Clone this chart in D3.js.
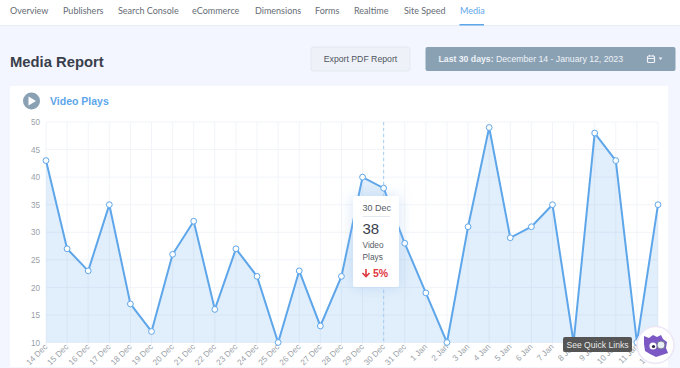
<!DOCTYPE html>
<html>
<head>
<meta charset="utf-8">
<script src="https://cdn.jsdelivr.net/npm/d3@7"></script>
<style>
  html, body { margin: 0; padding: 0; background: #f3f6fe; }
  svg { display: block; }
  text { font-family: "Liberation Sans", Arial, sans-serif; }
  .nav { font-family: Lato, sans-serif; font-size: 9px; fill: #666c76; }
  .tick text { font-size: 8.2px; fill: #9a9fa8; }
</style>
</head>
<body>
<div id="chart"></div>
<script>
// values
const days = ["14 Dec","15 Dec","16 Dec","17 Dec","18 Dec","19 Dec","20 Dec","21 Dec","22 Dec","23 Dec","24 Dec","25 Dec","26 Dec","27 Dec","28 Dec","29 Dec","30 Dec","31 Dec","1 Jan","2 Jan","3 Jan","4 Jan","5 Jan","6 Jan","7 Jan","8 Jan","9 Jan","10 Jan","11 Jan","12 Jan"];
const plays = [43,27,23,35,17,12,26,32,16,27,22,10,23,13,22,40,38,28,19,10,31,49,29,31,35,10,48,43,10,35];
const yTicks = [10,15,20,25,30,35,40,45,50];
const navItems = ["Overview","Publishers","Search Console","eCommerce","Dimensions","Forms","Realtime","Site Speed","Media"];
const navX = [10,63,118,192,255,315,354,404,460];
const activeDay = "30 Dec";

const width = 680, height = 368;
const svg = d3.select("#chart").append("svg").attr("width", width).attr("height", height);
const defs = svg.append("defs");
const blur = defs.append("filter").attr("id","tipShadow").attr("x","-40%").attr("y","-40%").attr("width","180%").attr("height","180%");
blur.append("feDropShadow").attr("dx",0).attr("dy",0).attr("stdDeviation",7).attr("flood-color","#7fb2e8").attr("flood-opacity",0.35);

// nav bar
svg.append("rect").attr("width",width).attr("height",25.5).attr("fill","#fff");
svg.append("rect").attr("y",25).attr("width",width).attr("height",1).attr("fill","#e8edf6");
svg.selectAll("text.nav").data(navItems).enter().append("text")
  .attr("class","nav")
  .attr("x",(d,i)=>navX[i]).attr("y",14)
  .style("fill",d=>d==="Media"?"#5ea6ea":null)
  .text(d=>d);
svg.append("rect").attr("x",459.5).attr("y",24).attr("width",24.5).attr("height",1.5).attr("fill","#5ea6ea");

// header row
svg.append("text").attr("x",10).attr("y",67).attr("font-size",14.8).attr("font-weight","bold").attr("fill","#393f4c").text("Media Report");
svg.append("rect").attr("x",311).attr("y",47).attr("width",99).attr("height",24).attr("rx",2).attr("fill","#eef1f8").attr("stroke","#e4e8f1");
svg.append("text").attr("x",360.5).attr("y",62).attr("text-anchor","middle").attr("font-size",8.7).attr("fill","#50565f").text("Export PDF Report");
svg.append("rect").attr("x",425.5).attr("y",47).attr("width",250).attr("height",24).attr("rx",2).attr("fill","#8aa1b4");
const range = svg.append("text").attr("x",438.5).attr("y",62).attr("font-size",8.7).attr("fill","#eef2f6");
range.append("tspan").attr("font-weight","bold").text("Last 30 days: ");
range.append("tspan").text("December 14 - January 12, 2023");
// calendar icon
svg.append("rect").attr("x",647.5).attr("y",56).attr("width",7).attr("height",6.5).attr("rx",1).attr("fill","none").attr("stroke","#eef2f6").attr("stroke-width",1.2);
svg.append("path").attr("d","M647 58.5h8M649.5 54.8v2M653 54.8v2").attr("stroke","#eef2f6").attr("stroke-width",1);
svg.append("path").attr("d","M658.5 57.5h4l-2 2.5z").attr("fill","#eef2f6");

// card
svg.append("rect").attr("x",10).attr("y",86).attr("width",658).attr("height",281).attr("fill","#fff");
svg.append("circle").attr("cx",31.5).attr("cy",101).attr("r",8.5).attr("fill","#8aa1b4");
svg.append("path").attr("d","M28.5 96.5l7.5 4.5-7.5 4.5z").attr("fill","#fff");
svg.append("text").attr("x",50).attr("y",105).attr("font-size",10.5).attr("font-weight","bold").attr("fill","#5ea6ea").text("Video Plays");

// chart
const x = d3.scalePoint().domain(days).range([46,658]);
const y = d3.scaleLinear().domain([10,50]).range([342.5,122]);

const grid = svg.append("g").attr("stroke","#f2f4f9").attr("stroke-width",1);
grid.selectAll("line.v").data(days).enter().append("line").attr("class","v")
  .attr("x1",d=>x(d)).attr("x2",d=>x(d)).attr("y1",y(50)).attr("y2",y(10)+3);
grid.selectAll("line.h").data(yTicks).enter().append("line").attr("class","h")
  .attr("x1",46).attr("x2",658).attr("y1",d=>y(d)).attr("y2",d=>y(d));

const area = d3.area().x((d,i)=>x(days[i])).y0(y(10)).y1(d=>y(d));
const line = d3.line().x((d,i)=>x(days[i])).y(d=>y(d));
svg.append("path").datum(plays).attr("d",area).attr("fill","#5ea6ea").attr("fill-opacity",0.19);

const yAxis = d3.axisLeft(y).tickValues(yTicks).tickSize(0).tickPadding(6);
svg.append("g").attr("transform","translate(46,0)").call(yAxis).call(g=>g.select(".domain").remove());
const xAxis = d3.axisBottom(x).tickSize(0).tickPadding(0);
svg.append("g").attr("transform","translate(-3,343)").call(xAxis)
  .call(g=>g.select(".domain").remove())
  .selectAll("text").attr("text-anchor","end").attr("dx","0").attr("dy","0.75em").attr("transform","rotate(-45)");

svg.append("line").attr("x1",x(activeDay)).attr("x2",x(activeDay)).attr("y1",y(50)).attr("y2",y(10))
  .attr("stroke","#a5cdf3").attr("stroke-width",1).attr("stroke-dasharray","3 3");

svg.append("path").datum(plays).attr("d",line).attr("fill","none").attr("stroke","#5ea6ea").attr("stroke-width",2);
svg.selectAll("circle.pt").data(plays).enter().append("circle").attr("class","pt")
  .attr("cx",(d,i)=>x(days[i])).attr("cy",d=>y(d)).attr("r",2.9)
  .attr("fill","#fff").attr("stroke","#5ea6ea").attr("stroke-width",1);

// tooltip
const tip = svg.append("g").attr("transform","translate(353,196)");
tip.append("rect").attr("width",46).attr("height",91).attr("rx",2).attr("fill","#fff").attr("filter","url(#tipShadow)");
tip.append("text").attr("x",9.5).attr("y",15).attr("font-size",9).attr("fill","#555b66").text(activeDay);
tip.append("line").attr("x1",9.5).attr("x2",37).attr("y1",20.5).attr("y2",20.5).attr("stroke","#e3e8f0");
tip.append("text").attr("x",9.5).attr("y",38).attr("font-size",15).attr("fill","#393f4c").text(plays[days.indexOf(activeDay)]);
tip.append("text").attr("x",9.5).attr("y",52).attr("font-size",8.3).attr("fill","#555b66").text("Video");
tip.append("text").attr("x",9.5).attr("y",64).attr("font-size",8.3).attr("fill","#555b66").text("Plays");
tip.append("path").attr("d","M13 73v7M9.5 77l3.5 3.5 3.5-3.5").attr("fill","none").attr("stroke","#e0393e").attr("stroke-width",1.6);
tip.append("text").attr("x",20).attr("y",81).attr("font-size",10.5).attr("font-weight","bold").attr("fill","#e0393e").text("5%");

// quick links badge
const badge = svg.append("g");
badge.append("rect").attr("x",563).attr("y",337).attr("width",69).attr("height",15).attr("rx",2).attr("fill","#555555");
badge.append("text").attr("x",597.5).attr("y",347.5).attr("text-anchor","middle").attr("font-size",8.6).attr("fill","#e8e8e8").text("See Quick Links");
badge.append("circle").attr("cx",655.5).attr("cy",345).attr("r",18.5).attr("fill","#fff").attr("stroke","#ece6f7").attr("stroke-width",1.5);
badge.append("path").attr("d","M644 336l5 2 4-3 4 2 4-2 2 4 4 3-1 6 2 5-6 2-6 2-6-3-5-3-1-7z").attr("fill","#7b58c4");
badge.append("circle").attr("cx",653).attr("cy",346).attr("r",3.6).attr("fill","#fff");
badge.append("circle").attr("cx",653.5).attr("cy",346.5).attr("r",1.6).attr("fill","#2b2340");
badge.append("circle").attr("cx",661).attr("cy",345).attr("r",4).attr("fill","#e9eef5").attr("stroke","#6d7a8c");
</script>
</body>
</html>
